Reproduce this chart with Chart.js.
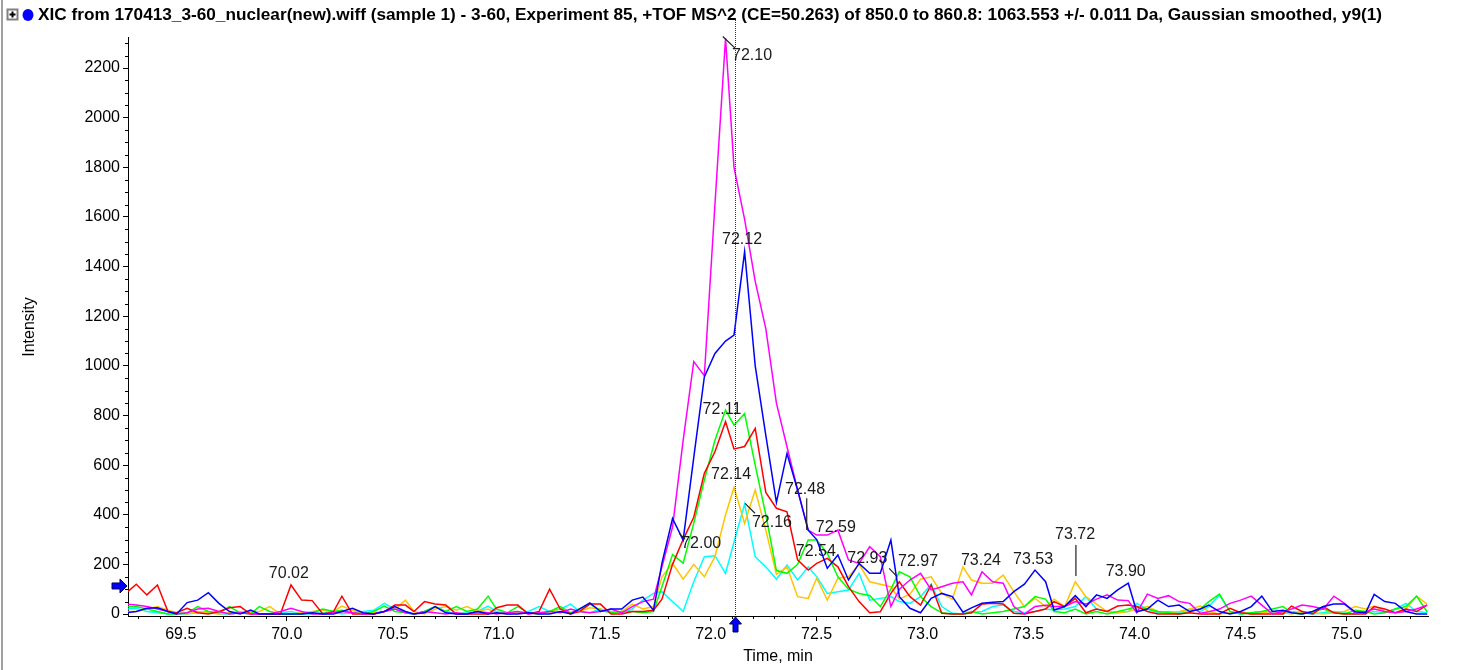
<!DOCTYPE html>
<html>
<head>
<meta charset="utf-8">
<title>XIC overlay</title>
<script src="https://cdn.jsdelivr.net/npm/chart.js@4.4.1/dist/chart.umd.min.js"></script>
<style>
  html, body { margin: 0; padding: 0; background: #fff; }
  #wrap { width: 1471px; height: 670px; }
</style>
</head>
<body>
<div id="wrap"><canvas id="xicChart" width="1471" height="670"></canvas></div>
<script>
// Header text
const chartTitle = 'XIC from 170413_3-60_nuclear(new).wiff (sample 1) - 3-60, Experiment 85, +TOF MS^2 (CE=50.263) of 850.0 to 860.8: 1063.553 +/- 0.011 Da, Gaussian smoothed, y9(1)';

// Axis ticks
const timeTicks = [69.5, 70.0, 70.5, 71.0, 71.5, 72.0, 72.5, 73.0, 73.5, 74.0, 74.5, 75.0];
const intensityTicks = [0, 200, 400, 600, 800, 1000, 1200, 1400, 1600, 1800, 2000, 2200];

// Scan times (min)
const scanTimes = [
  69.24,
  69.29, 69.34, 69.39, 69.44, 69.48, 69.53, 69.58, 69.63, 69.68, 69.73,
  69.78, 69.83, 69.87, 69.92, 69.97, 70.02, 70.07, 70.12, 70.17, 70.22,
  70.26, 70.31, 70.36, 70.41, 70.46, 70.51, 70.56, 70.60, 70.65, 70.70,
  70.75, 70.80, 70.85, 70.90, 70.95, 70.99, 71.04, 71.09, 71.14, 71.19,
  71.24, 71.29, 71.34, 71.38, 71.43, 71.48, 71.53, 71.58, 71.63, 71.68,
  71.73, 71.77, 71.82, 71.87, 71.92, 71.97, 72.02, 72.07, 72.11, 72.16,
  72.21, 72.26, 72.31, 72.36, 72.41, 72.46, 72.50, 72.55, 72.60, 72.65,
  72.70, 72.75, 72.80, 72.85, 72.89, 72.94, 72.99, 73.04, 73.09, 73.14,
  73.19, 73.23, 73.28, 73.33, 73.38, 73.43, 73.48, 73.53, 73.58, 73.62,
  73.67, 73.72, 73.77, 73.82, 73.87, 73.92, 73.97, 74.01, 74.06, 74.11,
  74.16, 74.21, 74.26, 74.31, 74.35, 74.40, 74.45, 74.50, 74.55, 74.60,
  74.65, 74.70, 74.74, 74.79, 74.84, 74.89, 74.94, 74.99, 75.04, 75.09,
  75.13, 75.18, 75.23, 75.28, 75.33, 75.38
];

// Intensities per trace
const magentaTrace = [
  40,
  36, 30, 20, 10, 0, 5, 20, 23, 10, 0,
  5, 0, 0, 0, 10, 23, 10, 0, 0, 5,
  10, 5, 0, 0, 10, 20, 5, 0, 10, 5,
  0, 5, 0, 10, 5, 0, 5, 10, 0, 5,
  10, 5, 20, 10, 5, 10, 20, 5, 30, 50,
  60, 190, 350, 700, 1017, 960, 1650, 2320, 1800, 1590,
  1340, 1150, 850, 674, 500, 338, 318, 318, 338, 218,
  204, 271, 231, 30, 100, 137, 164, 97, 110, 124,
  130, 77, 170, 130, 124, 30, 0, 30, 35, 30,
  30, 50, 40, 60, 77, 56, 54, 5, 80, 63,
  74, 50, 43, 3, 9, 20, 43, 56, 72, 36,
  0, 10, 20, 36, 30, 20, 72, 43, 3, 10,
  20, 10, 5, 10, 20, 36
];
const blueTrace = [
  5,
  10, 23, 25, 10, 0, 46, 56, 86, 43, 10,
  0, 16, 0, 0, 0, 0, 0, 5, 0, 0,
  10, 23, 5, 0, 10, 30, 10, 0, 5, 30,
  5, 0, 0, 10, 0, 5, 0, 0, 5, 0,
  0, 10, 0, 20, 45, 10, 20, 20, 56, 68,
  15, 205, 385, 298, 630, 955, 1050, 1100, 1124, 1460,
  1000, 720, 450, 647, 500, 338, 300, 184, 238, 137,
  204, 164, 164, 298, 70, 23, 5, 63, 83, 70,
  7, 25, 43, 47, 50, 90, 120, 177, 130, 16,
  30, 74, 30, 77, 63, 97, 124, 9, 20, 56,
  30, 36, 10, 20, 36, 10, 0, 10, 30, 72,
  10, 15, 5, 0, 10, 30, 40, 40, 9, 5,
  79, 50, 43, 10, 0, 0
];
const redTrace = [
  83,
  120, 77, 117, 9, 5, 23, 5, 0, 10, 25,
  30, 0, 0, 0, 0, 117, 56, 54, 0, 9,
  72, 0, 0, 0, 10, 36, 36, 10, 50, 40,
  36, 0, 0, 0, 0, 25, 36, 36, 0, 10,
  100, 20, 0, 10, 40, 40, 0, 0, 10, 10,
  15, 60, 200, 300, 390, 567, 654, 775, 665, 675,
  748, 490, 426, 412, 218, 177, 204, 224, 190, 110,
  50, 5, 9, 83, 130, 70, 36, 117, 3, 0,
  0, 5, 40, 43, 40, 3, 0, 10, 20, 50,
  30, 63, 5, 20, 10, 32, 36, 30, 10, 0,
  0, 0, 5, 0, 0, 0, 23, 5, 0, 0,
  0, 0, 32, 10, 0, 30, 5, 0, 0, 0,
  30, 20, 5, 20, 10, 36
];
const greenTrace = [
  30,
  30, 20, 10, 0, 0, 5, 30, 10, 5, 30,
  5, 0, 30, 10, 0, 0, 0, 5, 20, 10,
  15, 5, 0, 10, 32, 10, 5, 0, 10, 30,
  10, 30, 10, 20, 72, 20, 5, 30, 5, 0,
  10, 30, 5, 20, 40, 15, 5, 10, 10, 5,
  10, 110, 240, 205, 365, 540, 700, 822, 761, 808,
  600, 400, 175, 164, 200, 298, 298, 244, 150, 100,
  83, 75, 30, 100, 170, 150, 70, 30, 5, 0,
  0, 10, 0, 5, 10, 20, 30, 70, 60, 10,
  5, 20, 0, 10, 0, 10, 20, 30, 20, 10,
  5, 0, 10, 20, 50, 80, 10, 0, 5, 10,
  20, 30, 5, 0, 10, 20, 5, 0, 15, 10,
  0, 5, 20, 30, 72, 9
];
const yellowTrace = [
  10,
  10, 20, 30, 15, 5, 0, 10, 5, 0, 5,
  10, 5, 10, 30, 0, 0, 5, 10, 16, 10,
  32, 15, 0, 5, 10, 20, 56, 10, 0, 20,
  30, 15, 30, 10, 20, 5, 0, 10, 5, 0,
  10, 20, 5, 10, 25, 20, 5, 10, 40, 20,
  30, 150, 204, 140, 200, 150, 231, 400, 510, 365,
  500, 338, 160, 190, 70, 63, 144, 56, 144, 150,
  200, 130, 120, 110, 60, 80, 140, 150, 83, 60,
  190, 137, 124, 124, 157, 90, 30, 63, 30, 60,
  30, 130, 70, 40, 10, 5, 10, 20, 30, 10,
  5, 10, 20, 32, 10, 0, 5, 10, 0, 5,
  10, 5, 0, 10, 5, 0, 5, 10, 30, 20,
  32, 10, 5, 20, 72, 40
];
const cyanTrace = [
  20,
  23, 10, 5, 0, 0, 0, 5, 10, 0, 0,
  5, 10, 0, 0, 5, 10, 0, 0, 5, 10,
  0, 5, 10, 15, 43, 20, 5, 0, 10, 30,
  10, 0, 5, 10, 32, 10, 0, 5, 10, 30,
  10, 20, 40, 10, 5, 20, 10, 5, 20, 56,
  83, 90, 50, 10, 130, 231, 235, 164, 290, 443,
  231, 190, 140, 197, 137, 190, 150, 83, 90, 97,
  164, 56, 63, 70, 50, 43, 70, 120, 30, 3,
  0, 5, 10, 30, 36, 10, 5, 10, 20, 16,
  20, 30, 70, 20, 10, 5, 10, 43, 20, 5,
  10, 5, 20, 10, 30, 77, 10, 0, 5, 10,
  5, 0, 10, 5, 0, 5, 10, 5, 0, 5,
  10, 5, 20, 43, 10, 5
];

// Peak labels: text, time, intensity where the label sits
const peakLabelText = ['70.02', '72.10', '72.12', '72.11', '72.14', '72.00', '72.16', '72.48', '72.59', '72.54', '72.93', '72.97', '73.24', '73.53', '73.72', '73.90'];
const peakLabelTime = [70.01, 72.195, 72.148, 72.053, 72.096, 71.955, 72.289, 72.445, 72.590, 72.496, 72.739, 72.978, 73.275, 73.521, 73.719, 73.958];
const peakLabelIntensity = [161, 2250, 1507, 822, 560, 282, 367, 500, 347, 250, 222, 210, 214, 218, 322, 169];
// Leader lines: [t1, v1, t2, v2]
const leaderLines = [
  [72.057, 2327, 72.115, 2280],
  [71.852, 325, 71.879, 301],
  [72.162, 446, 72.209, 406],
  [72.453, 466, 72.453, 339],
  [72.842, 184, 72.877, 153],
  [73.723, 278, 73.723, 153]
];
const cursorTime = 72.115;
const thresholdIntensity = 113;

const traceColors = {
  blue: '#0000ff',
  magenta: '#ff00ff',
  red: '#ff0000',
  green: '#00ff00',
  yellow: '#ffc400',
  cyan: '#00ffff'
};

const toPoints = values => scanTimes.map((t, i) => ({ x: t, y: values[i] }));

const makeTrace = (label, values, color) => ({
  label: label,
  data: toPoints(values),
  borderColor: color,
  borderWidth: 1.5,
  pointRadius: 0,
  tension: 0,
  fill: false
});

const tickFont = { family: '"Liberation Sans", Arial, sans-serif', size: 16 };

const overlayPlugin = {
  id: 'overlay',
  afterDatasetsDraw(chart) {
    const { ctx, chartArea: area, scales: { x, y } } = chart;
    ctx.save();

    // minor ticks
    ctx.strokeStyle = '#000';
    ctx.lineWidth = 1;
    ctx.beginPath();
    for (let i = 693; i <= 753; i++) {
      if (i % 5 === 0) continue;
      const px = Math.round(x.getPixelForValue(i / 10)) + 0.5;
      ctx.moveTo(px, area.bottom);
      ctx.lineTo(px, area.bottom + 3);
    }
    for (let v = 50; v < 2320; v += 50) {
      if (v % 200 === 0) continue;
      const py = Math.round(y.getPixelForValue(v)) + 0.5;
      ctx.moveTo(area.left - 3, py);
      ctx.lineTo(area.left, py);
    }
    ctx.stroke();

    // cursor line
    const cx = Math.round(x.getPixelForValue(cursorTime)) + 0.5;
    ctx.setLineDash([1, 1]);
    ctx.strokeStyle = '#333';
    ctx.beginPath();
    ctx.moveTo(cx, 20);
    ctx.lineTo(cx, area.bottom);
    ctx.stroke();
    ctx.setLineDash([]);

    // leader lines
    ctx.strokeStyle = '#222';
    ctx.lineWidth = 1.2;
    ctx.beginPath();
    leaderLines.forEach(([t1, v1, t2, v2]) => {
      ctx.moveTo(x.getPixelForValue(t1), y.getPixelForValue(v1));
      ctx.lineTo(x.getPixelForValue(t2), y.getPixelForValue(v2));
    });
    ctx.stroke();

    // peak labels
    ctx.font = '16px "Liberation Sans", Arial, sans-serif';
    ctx.fillStyle = '#1a1a1a';
    ctx.textAlign = 'center';
    ctx.textBaseline = 'middle';
    peakLabelText.forEach((txt, i) => {
      ctx.fillText(txt, x.getPixelForValue(peakLabelTime[i]), y.getPixelForValue(peakLabelIntensity[i]));
    });

    // arrows
    ctx.fillStyle = '#0000ff';
    ctx.strokeStyle = '#000060';
    ctx.lineWidth = 1;
    const ab = area.bottom + 1;
    ctx.beginPath();
    ctx.moveTo(cx, ab);
    ctx.lineTo(cx + 6, ab + 7);
    ctx.lineTo(cx + 2.5, ab + 7);
    ctx.lineTo(cx + 2.5, ab + 15);
    ctx.lineTo(cx - 2.5, ab + 15);
    ctx.lineTo(cx - 2.5, ab + 7);
    ctx.lineTo(cx - 6, ab + 7);
    ctx.closePath();
    ctx.fill();
    ctx.stroke();

    const ty = y.getPixelForValue(thresholdIntensity);
    const al = area.left - 1;
    ctx.beginPath();
    ctx.moveTo(al, ty);
    ctx.lineTo(al - 7, ty - 7);
    ctx.lineTo(al - 7, ty - 3);
    ctx.lineTo(al - 15, ty - 3);
    ctx.lineTo(al - 15, ty + 3);
    ctx.lineTo(al - 7, ty + 3);
    ctx.lineTo(al - 7, ty + 7);
    ctx.closePath();
    ctx.fill();
    ctx.stroke();

    ctx.restore();
  },
  afterDraw(chart) {
    const { ctx } = chart;
    ctx.save();

    // window frame
    ctx.strokeStyle = '#a0a0a0';
    ctx.lineWidth = 2;
    ctx.beginPath();
    ctx.moveTo(2, 0);
    ctx.lineTo(2, 670);
    ctx.stroke();

    // expand box
    ctx.strokeStyle = '#808080';
    ctx.fillStyle = '#fff';
    ctx.fillRect(7.5, 9.5, 10, 10);
    ctx.strokeRect(7.5, 9.5, 10, 10);
    ctx.strokeStyle = '#000';
    ctx.beginPath();
    ctx.moveTo(9.5, 14.5); ctx.lineTo(15.5, 14.5);
    ctx.moveTo(12.5, 11.5); ctx.lineTo(12.5, 17.5);
    ctx.stroke();

    // series dot
    ctx.fillStyle = '#0000ff';
    ctx.beginPath();
    ctx.ellipse(28, 15, 5.5, 6, 0, 0, Math.PI * 2);
    ctx.fill();

    // title
    ctx.fillStyle = '#000';
    ctx.font = 'bold 17px "Liberation Sans Narrow", "Liberation Sans", Arial, sans-serif';
    ctx.textBaseline = 'middle';
    ctx.textAlign = 'left';
    const w = ctx.measureText(chartTitle).width;
    ctx.translate(38, 15);
    ctx.scale(1344 / w, 1);
    ctx.fillText(chartTitle, 0, 0);
    ctx.setTransform(1, 0, 0, 1, 0, 0);

    // axis titles
    ctx.font = '16px "Liberation Sans", Arial, sans-serif';
    ctx.fillStyle = '#000';
    ctx.textAlign = 'center';
    ctx.fillText('Time, min', 778, 657);
    ctx.translate(30, 327);
    ctx.rotate(-Math.PI / 2);
    ctx.fillText('Intensity', 0, 0);
    ctx.restore();
  }
};

const createXicChart = () => {
  const ctx = document.getElementById('xicChart').getContext('2d');
  return new Chart(ctx, {
    type: 'line',
    data: {
      datasets: [
        makeTrace('blue', blueTrace, traceColors.blue),
        makeTrace('magenta', magentaTrace, traceColors.magenta),
        makeTrace('red', redTrace, traceColors.red),
        makeTrace('green', greenTrace, traceColors.green),
        makeTrace('yellow', yellowTrace, traceColors.yellow),
        makeTrace('cyan', cyanTrace, traceColors.cyan)
      ]
    },
    options: {
      responsive: false,
      animation: false,
      devicePixelRatio: 1,
      layout: { padding: { left: 0, right: 43, top: 37, bottom: 0 } },
      plugins: {
        legend: { display: false },
        title: { display: false },
        tooltip: { enabled: false }
      },
      scales: {
        x: {
          type: 'linear',
          min: 69.251,
          max: 75.384,
          afterBuildTicks: scale => { scale.ticks = timeTicks.map(v => ({ value: v })); },
          afterFit: scale => { scale.height = 54; },
          ticks: {
            autoSkip: false,
            maxRotation: 0,
            padding: 4,
            color: '#000',
            font: tickFont,
            callback: v => Number(v).toFixed(1)
          },
          grid: { display: true, drawOnChartArea: false, drawTicks: true, tickLength: 5, color: '#000' },
          border: { display: true, color: '#000', width: 1 }
        },
        y: {
          type: 'linear',
          min: -8,
          max: 2325,
          afterBuildTicks: scale => { scale.ticks = intensityTicks.map(v => ({ value: v })); },
          afterFit: scale => { scale.width = 128; },
          ticks: {
            autoSkip: false,
            padding: 3,
            color: '#000',
            font: tickFont,
            callback: v => String(v)
          },
          grid: { display: true, drawOnChartArea: false, drawTicks: true, tickLength: 5, color: '#000' },
          border: { display: true, color: '#000', width: 1 }
        }
      }
    },
    plugins: [overlayPlugin]
  });
};

document.addEventListener('DOMContentLoaded', () => {
  const xicChart = createXicChart();
});
</script>
</body>
</html>
